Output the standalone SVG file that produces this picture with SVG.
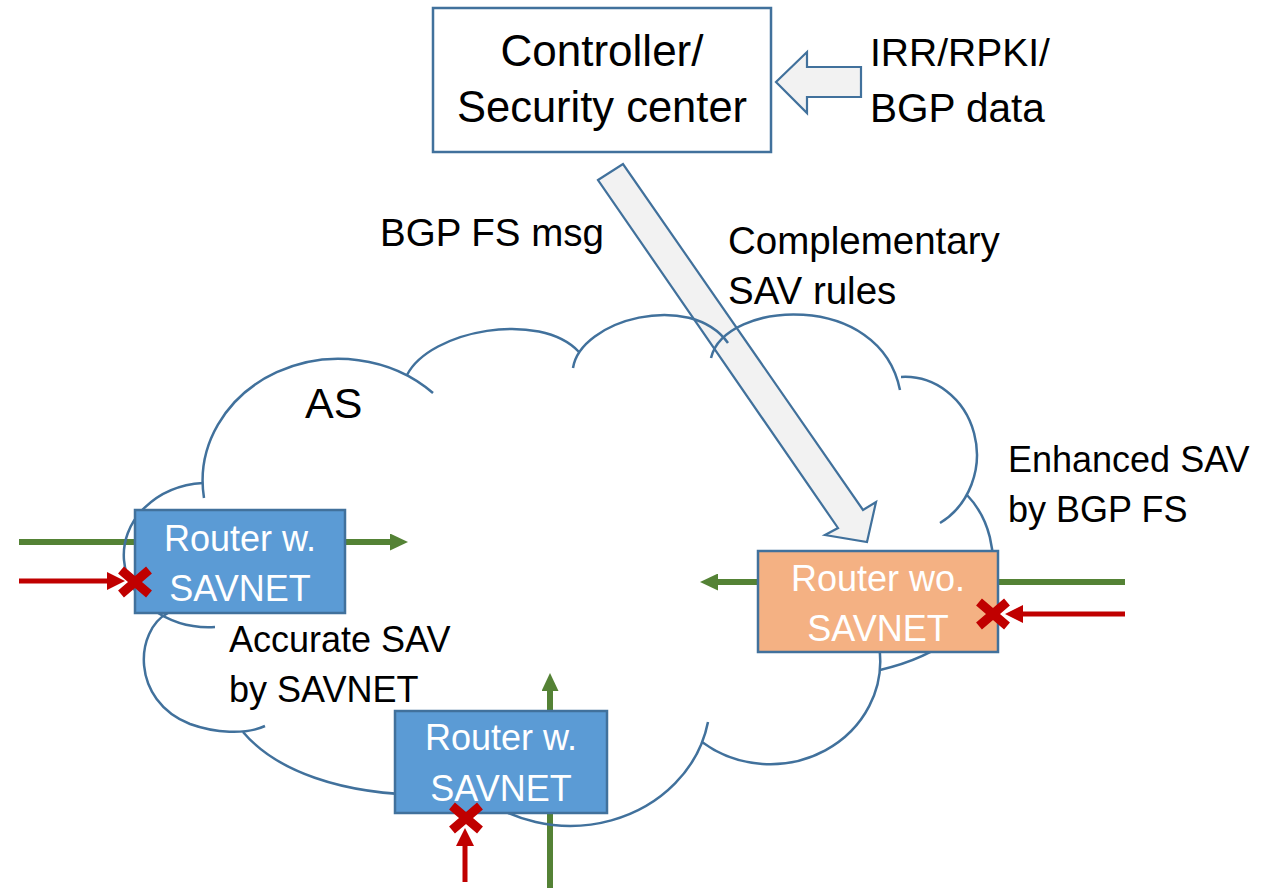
<svg xmlns="http://www.w3.org/2000/svg" width="1276" height="888" viewBox="0 0 1276 888">
  <defs>
    <style>
      .txt { font-family: "Liberation Sans", Arial, sans-serif; fill: #000; }
      .rtxt { font-family: "Liberation Sans", Arial, sans-serif; fill: #fff; font-size: 36px; text-anchor: middle; }
      .cloud path { fill: none; stroke: #41719c; stroke-width: 2.5; }
      .router-blue { fill: #5b9bd5; stroke: #41719c; stroke-width: 2.5; }
      .router-orange { fill: #f4b183; stroke: #41719c; stroke-width: 2.5; }
      .block-arrow { fill: #f2f2f2; stroke: #41719c; stroke-width: 2.2; stroke-linejoin: miter; }
      .legit { fill: none; stroke: #548235; stroke-width: 6; }
      .spoof { fill: none; stroke: #c00000; stroke-width: 5; }
      .xmark { fill: none; stroke: #c00000; stroke-width: 9; }
    </style>
    <marker id="head-green" markerUnits="userSpaceOnUse" viewBox="0 0 18 17" refX="0" refY="8.5" markerWidth="18" markerHeight="17" orient="auto">
      <path d="M0,0 L18,8.5 L0,17 Z" fill="#548235"/>
    </marker>
    <marker id="head-red" markerUnits="userSpaceOnUse" viewBox="0 0 18 18" refX="0" refY="9" markerWidth="18" markerHeight="18" orient="auto">
      <path d="M0,0 L18,9 L0,18 Z" fill="#c00000"/>
    </marker>
    <path id="cross" d="M-14,-12 L14,12 M-14,12 L14,-12"/>
  </defs>

  <rect width="1276" height="888" fill="#fff"/>

  <!-- connectors: data feeds, rule push and traffic flows -->
  <g id="connectors">
    <!-- IRR/RPKI/BGP data into the controller -->
    <polygon class="block-arrow" points="861,67 807,67 807,52 776,82 807,113 807,97 861,97"/>
    <!-- BGP FS message carrying complementary SAV rules -->
    <polygon class="block-arrow" points="598,180 623,164 863,510 876,502 867,542 825,535 838,528"/>
    <!-- left router flows -->
    <path class="legit" d="M19,542 H390" marker-end="url(#head-green)"/>
    <path class="spoof" d="M19,581 H107" marker-end="url(#head-red)"/>
    <!-- right router flows -->
    <path class="legit" d="M1125,582 H718" marker-end="url(#head-green)"/>
    <path class="spoof" d="M1125,614 H1023" marker-end="url(#head-red)"/>
    <!-- bottom router flows -->
    <path class="legit" d="M550,888 V691" marker-end="url(#head-green)"/>
    <path class="spoof" d="M465,882 V846" marker-end="url(#head-red)"/>
  </g>

  <!-- autonomous system drawn as a cloud of arcs -->
  <g id="as-cloud" class="cloud">
    <path d="M204,498 A136,122 0 0 1 433,393"/>
    <path d="M407,375 C430,330 540,310 579,352"/>
    <path d="M573,368 C580,320 690,290 728,343"/>
    <path d="M711,358 C725,300 880,290 900,390"/>
    <path d="M901,377 A72,78 0 0 1 940,523"/>
    <path d="M967,495 C1010,540 1010,640 880,670"/>
    <path d="M879,646 A110,103 0 0 1 702,742"/>
    <path d="M708,722 A140,126 0 0 1 470,788"/>
    <path d="M243,732 C275,770 340,795 430,795"/>
    <path d="M168,613 C135,630 130,700 190,724 C215,733 245,735 265,726"/>
    <path d="M203,483 A85,72 0 0 0 215,627"/>
  </g>

  <g id="controller">
    <rect x="433" y="8" width="338" height="144" fill="#fff" stroke="#41719c" stroke-width="2.5"/>
    <text class="txt" x="602" y="66" font-size="44" text-anchor="middle">Controller/</text>
    <text class="txt" x="602" y="122" font-size="43.5" text-anchor="middle">Security center</text>
  </g>

  <g id="router-left">
    <rect class="router-blue" x="135" y="510" width="210" height="103"/>
    <text class="rtxt" x="240" y="551">Router w.</text>
    <text class="rtxt" x="240" y="601">SAVNET</text>
  </g>

  <g id="router-right">
    <rect class="router-orange" x="758" y="551" width="240" height="101"/>
    <text class="rtxt" x="878" y="591">Router wo.</text>
    <text class="rtxt" x="878" y="641">SAVNET</text>
  </g>

  <g id="router-bottom">
    <rect class="router-blue" x="395" y="711" width="212" height="102"/>
    <text class="rtxt" x="501" y="750">Router w.</text>
    <text class="rtxt" x="501" y="801">SAVNET</text>
  </g>

  <!-- spoofed traffic dropped at the interfaces -->
  <g id="drops">
    <use href="#cross" class="xmark" x="135" y="582"/>
    <use href="#cross" class="xmark" x="993" y="614"/>
    <use href="#cross" class="xmark" x="466" y="818"/>
  </g>

  <g id="labels">
    <text class="txt" x="870" y="66" font-size="39">IRR/RPKI/</text>
    <text class="txt" x="870" y="122" font-size="40.5">BGP data</text>
    <text class="txt" x="380" y="246" font-size="38.5">BGP FS msg</text>
    <text class="txt" x="728" y="254" font-size="38.5">Complementary</text>
    <text class="txt" x="728" y="304" font-size="38.5">SAV rules</text>
    <text class="txt" x="305" y="418" font-size="43">AS</text>
    <text class="txt" x="1008" y="472" font-size="36">Enhanced SAV</text>
    <text class="txt" x="1008" y="522" font-size="36">by BGP FS</text>
    <text class="txt" x="229" y="652" font-size="36">Accurate SAV</text>
    <text class="txt" x="229" y="702" font-size="36">by SAVNET</text>
  </g>
</svg>
